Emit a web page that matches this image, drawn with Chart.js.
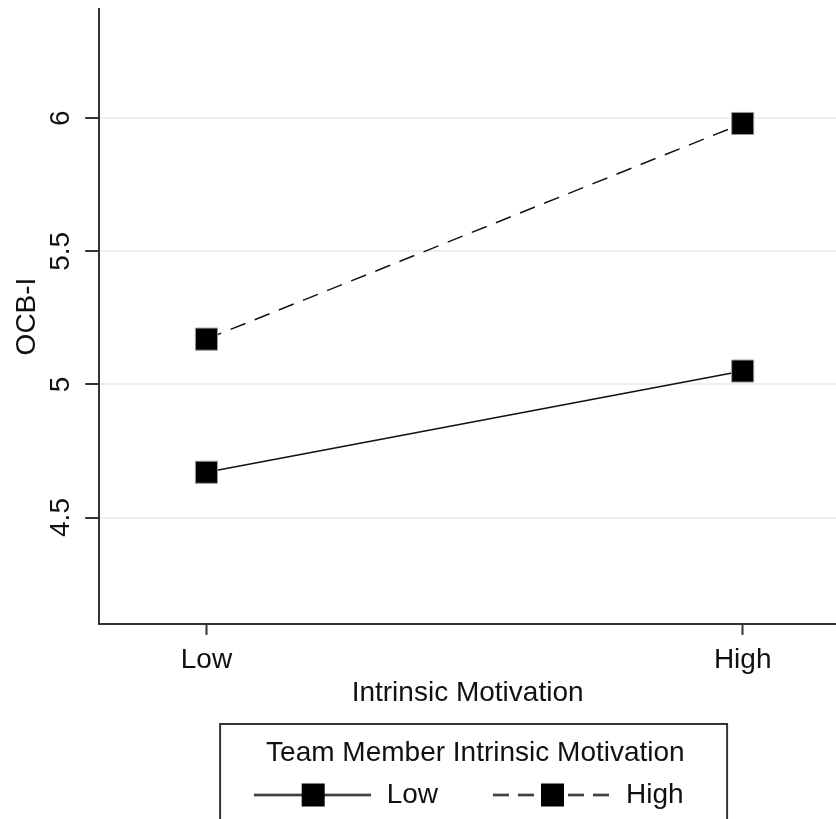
<!DOCTYPE html>
<html>
<head>
<meta charset="utf-8">
<script src="https://cdn.jsdelivr.net/npm/chart.js@4/dist/chart.umd.min.js"></script>
<style>
    html, body { margin: 0; padding: 0; background: #fff; overflow: hidden; }
    #chart { display: block; }
</style>
</head>
<body>
<canvas id="chart" width="836" height="819"></canvas>
<script>
const categories = ["Low", "High"];
const lowMember = [4.67, 5.05];
const highMember = [5.17, 5.98];
const yTicks = [4.5, 5, 5.5, 6];
const seriesNames = ["Low", "High"];

const font = "'Liberation Sans', Arial, sans-serif";
const ink = "#111";

Chart.defaults.font.family = font;
Chart.defaults.font.size = 28;
Chart.defaults.color = ink;

function toPoints(values) {
    return values.map((v, i) => ({ x: i, y: v }));
}

// little line + square swatch used as the legend symbol
function makeSymbol(dashed) {
    const c = document.createElement("canvas");
    c.width = 117;
    c.height = 25;
    const g = c.getContext("2d");
    g.strokeStyle = "#000";
    g.lineWidth = 2;
    if (dashed) g.setLineDash([16, 9]);
    g.beginPath();
    g.moveTo(0, 12.5);
    g.lineTo(117, 12.5);
    g.stroke();
    g.fillStyle = "#000";
    g.fillRect(48, 1, 23, 23);
    return c;
}

// no edge padding from the tick labels, the plot runs to the canvas edges
function noPadding(scale) {
    scale.paddingTop = 0;
    scale.paddingBottom = 0;
    scale.paddingLeft = 0;
    scale.paddingRight = 0;
}

const legendBox = {
    id: "legendBox",
    afterDraw(chart) {
        const lg = chart.legend;
        const ctx = chart.ctx;
        const cx = (lg.left + lg.right) / 2 + 6;
        ctx.save();
        ctx.strokeStyle = "#333";
        ctx.lineWidth = 2;
        ctx.strokeRect(cx - 253.5, lg.top, 507, lg.height + 40);
        ctx.restore();
    }
};

const ctx = document.getElementById("chart").getContext("2d");

new Chart(ctx, {
    type: "line",
    data: {
        datasets: [
            {
                label: seriesNames[0],
                data: toPoints(lowMember),
                borderColor: "#111",
                borderWidth: 1.5,
                pointStyle: "rect",
                pointRadius: 15.6,
                pointBackgroundColor: "#000",
                pointBorderColor: "#999",
                pointBorderWidth: 1
            },
            {
                label: seriesNames[1],
                data: toPoints(highMember),
                borderColor: "#111",
                borderWidth: 1.5,
                borderDash: [16, 10],
                pointStyle: "rect",
                pointRadius: 15.6,
                pointBackgroundColor: "#000",
                pointBorderColor: "#999",
                pointBorderWidth: 1
            }
        ]
    },
    options: {
        responsive: false,
        animation: false,
        layout: {
            autoPadding: false,
            padding: { top: 9, left: 0, right: 0, bottom: 0 }
        },
        scales: {
            x: {
                type: "linear",
                min: -0.2,
                max: 1.174,
                afterBuildTicks: axis => {
                    axis.ticks = categories.map((c, i) => ({ value: i }));
                },
                afterFit: noPadding,
                ticks: {
                    padding: 8,
                    color: ink,
                    callback: value => categories[value]
                },
                grid: {
                    drawOnChartArea: false,
                    tickLength: 11,
                    tickColor: "#333",
                    tickWidth: 2
                },
                border: { color: "#333", width: 2 },
                title: {
                    display: true,
                    text: "Intrinsic Motivation",
                    color: ink,
                    padding: { top: -8, bottom: 13.8 }
                }
            },
            y: {
                min: 4.1,
                max: 6.41,
                afterBuildTicks: axis => {
                    axis.ticks = yTicks.map(v => ({ value: v }));
                },
                afterFit: noPadding,
                ticks: {
                    minRotation: 90,
                    maxRotation: 90,
                    crossAlign: "center",
                    padding: 4,
                    color: ink,
                    callback: value => String(value)
                },
                grid: {
                    color: "#eaf1f3",
                    lineWidth: 2,
                    tickLength: 14,
                    tickColor: "#333",
                    tickWidth: 2
                },
                border: { color: "#333", width: 2 },
                title: {
                    display: true,
                    text: "OCB-I",
                    color: ink,
                    padding: { top: 10, bottom: 0 }
                }
            }
        },
        plugins: {
            legend: {
                position: "bottom",
                fullSize: false,
                title: {
                    display: true,
                    text: "  Team Member Intrinsic Motivation",
                    color: ink,
                    font: { size: 28, lineHeight: 1 },
                    padding: { top: 15, bottom: 0 }
                },
                labels: {
                    usePointStyle: true,
                    pointStyleWidth: 121,
                    padding: 14,
                    color: ink,
                    font: { size: 28 },
                    generateLabels: () => [
                        { text: seriesNames[0] + "     ", pointStyle: makeSymbol(false), fillStyle: "#000", strokeStyle: "#000", lineWidth: 0, hidden: false, datasetIndex: 0 },
                        { text: seriesNames[1], pointStyle: makeSymbol(true), fillStyle: "#000", strokeStyle: "#000", lineWidth: 0, hidden: false, datasetIndex: 1 }
                    ]
                }
            },
            tooltip: { enabled: false }
        }
    },
    plugins: [legendBox]
});
</script>
</body>
</html>
